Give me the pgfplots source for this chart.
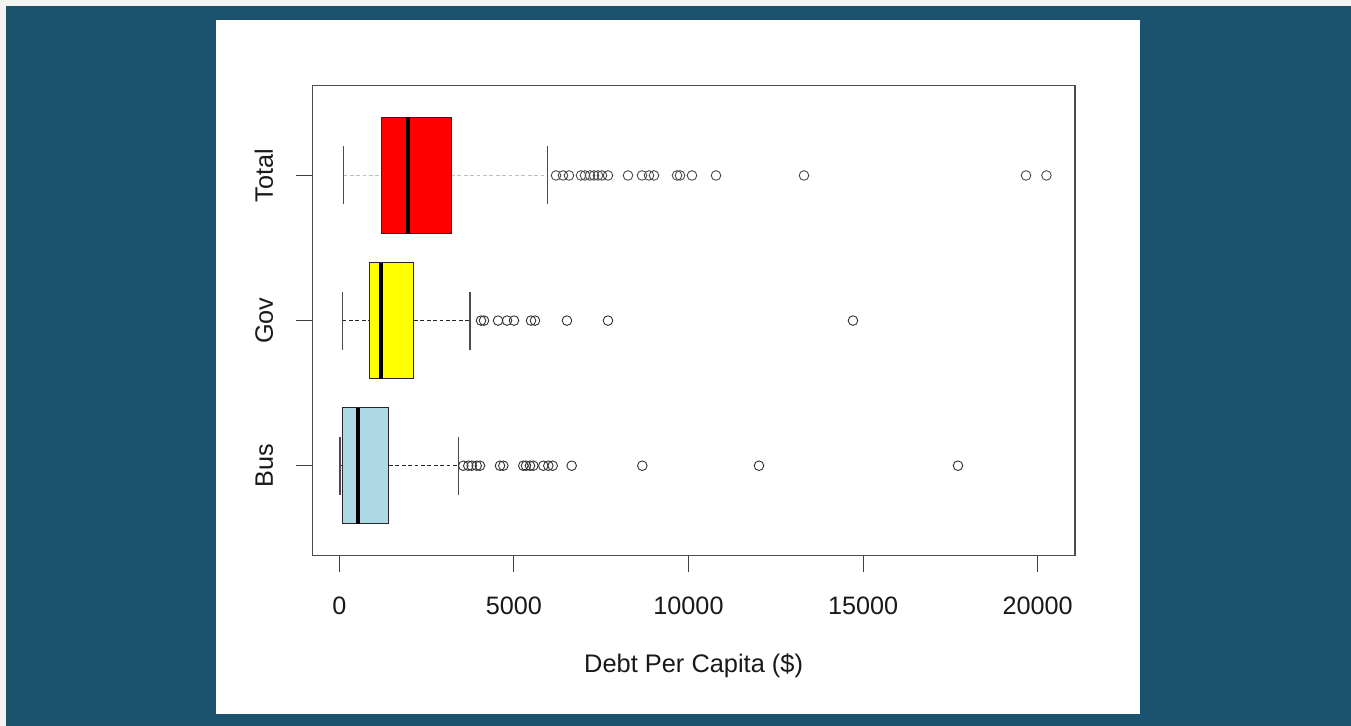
\documentclass[border=0pt]{standalone}
\usepackage{pgfplots}
\pgfplotsset{compat=1.18}
\usepgfplotslibrary{statistics}
\usepackage{fontspec}
\setmainfont{Liberation Sans}

\definecolor{pagebg}{RGB}{243,243,241}
\definecolor{slate}{RGB}{27,83,111}
\definecolor{boxblue}{RGB}{173,216,230}
\definecolor{boxred}{RGB}{255,0,0}
\definecolor{boxyellow}{RGB}{255,255,0}

\begin{document}
\begin{tikzpicture}
% frame: light strip, dark slate background, white panel
\path[use as bounding box] (0,0) rectangle (675.5pt,363pt);
\fill[pagebg] (0,0) rectangle (675.5pt,363pt);
\fill[slate] (2.85pt,0) rectangle (675.5pt,360.15pt);
\fill[white] (108pt,6pt) rectangle (570pt,353pt);

\begin{axis}[
  at={(156.15pt,85.15pt)}, anchor=south west,
  scale only axis, width=381.35pt, height=235.1pt,
  xmin=-773, xmax=21068, ymin=0.38, ymax=3.62,
  axis line style={black!70, line width=0.8pt},
  tick align=outside, major tick length=8pt,
  tick style={black!75, line width=0.5pt},
  xtick={0,5000,10000,15000,20000}, xtick pos=bottom,
  ytick={1,2,3}, yticklabels={Bus,Gov,Total}, ytick pos=left,
  scaled x ticks=false,
  /pgf/number format/set thousands separator={},
  /pgf/number format/assume math mode=true,
  tick label style={font=\fontsize{12.6}{14}\selectfont, black!90},
  xticklabel style={anchor=north, yshift=-9pt},
  yticklabel style={xshift=-8pt, rotate=90, anchor=south},
  xlabel={Debt Per Capita (\$)},
  xlabel style={font=\fontsize{12.7}{14}\selectfont, black!90, at={(axis description cs:0.5,0)}, anchor=base, yshift=-58.5pt},
  boxplot/box extend=0.8,
  boxplot/whisker extend=0,
  boxplot/every whisker/.style={draw=none},
  boxplot/every median/.style={black, line width=1.9pt},
  mark size=2.4pt,
]

% whisker lines and caps
\addplot[black!25, line width=0.55pt, dash pattern=on 1.9pt off 1.3pt] coordinates {(115,3) (1214,3)};
\addplot[black!25, line width=0.55pt, dash pattern=on 1.9pt off 1.3pt] coordinates {(3199,3) (5968,3)};
\addplot[black!70, line width=0.55pt] coordinates {(115,2.8) (115,3.2)};
\addplot[black!70, line width=0.55pt] coordinates {(5968,2.8) (5968,3.2)};

\addplot[black!85, line width=0.55pt, dash pattern=on 1.9pt off 1.3pt] coordinates {(97,2) (859,2)};
\addplot[black!85, line width=0.55pt, dash pattern=on 1.9pt off 1.3pt] coordinates {(2139,2) (3743,2)};
\addplot[black!70, line width=0.55pt] coordinates {(97,1.8) (97,2.2)};
\addplot[black!70, line width=0.55pt] coordinates {(3743,1.8) (3743,2.2)};

\addplot[black!85, line width=0.55pt, dash pattern=on 1.9pt off 1.3pt] coordinates {(20,1) (97,1)};
\addplot[black!85, line width=0.55pt, dash pattern=on 1.9pt off 1.3pt] coordinates {(1423,1) (3408,1)};
\addplot[black!70, line width=0.55pt] coordinates {(20,0.8) (20,1.2)};
\addplot[black!70, line width=0.55pt] coordinates {(3408,0.8) (3408,1.2)};

% Total
\addplot[
  boxplot prepared={lower whisker=115, lower quartile=1214, median=1976,
    upper quartile=3199, upper whisker=5968, draw position=3},
  boxplot/every box/.style={draw=black!85, line width=0.5pt, fill=boxred},
  mark=o, mark options={black!70, line width=0.45pt, solid},
] table[row sep=\\, y index=0] {
v\\ 6206\\ 6406\\ 6578\\ 6921\\ 7036\\ 7179\\ 7294\\ 7408\\ 7523\\ 7695\\
8267\\ 8668\\ 8869\\ 9012\\ 9671\\ 9757\\ 10100\\ 10788\\ 13308\\ 19665\\ 20250\\
};

% Gov
\addplot[
  boxplot prepared={lower whisker=97, lower quartile=859, median=1194,
    upper quartile=2139, upper whisker=3743, draw position=2},
  boxplot/every box/.style={draw=black!85, line width=0.5pt, fill=boxyellow},
  mark=o, mark options={black!80, line width=0.45pt, solid},
] table[row sep=\\, y index=0] {
v\\ 4058\\ 4144\\ 4545\\ 4803\\ 5003\\ 5490\\ 5604\\ 6520\\ 7694\\ 14710\\
};

% Bus
\addplot[
  boxplot prepared={lower whisker=20, lower quartile=97, median=544,
    upper quartile=1423, upper whisker=3408, draw position=1},
  boxplot/every box/.style={draw=black!85, line width=0.5pt, fill=boxblue},
  mark=o, mark options={black!80, line width=0.45pt, solid},
] table[row sep=\\, y index=0] {
v\\ 3551\\ 3694\\ 3792\\ 3935\\ 4029\\ 4602\\ 4697\\ 5269\\ 5347\\ 5461\\
5556\\ 5842\\ 5985\\ 6111\\ 6655\\ 8677\\ 12019\\ 17717\\
};

\end{axis}
\end{tikzpicture}
\end{document}
